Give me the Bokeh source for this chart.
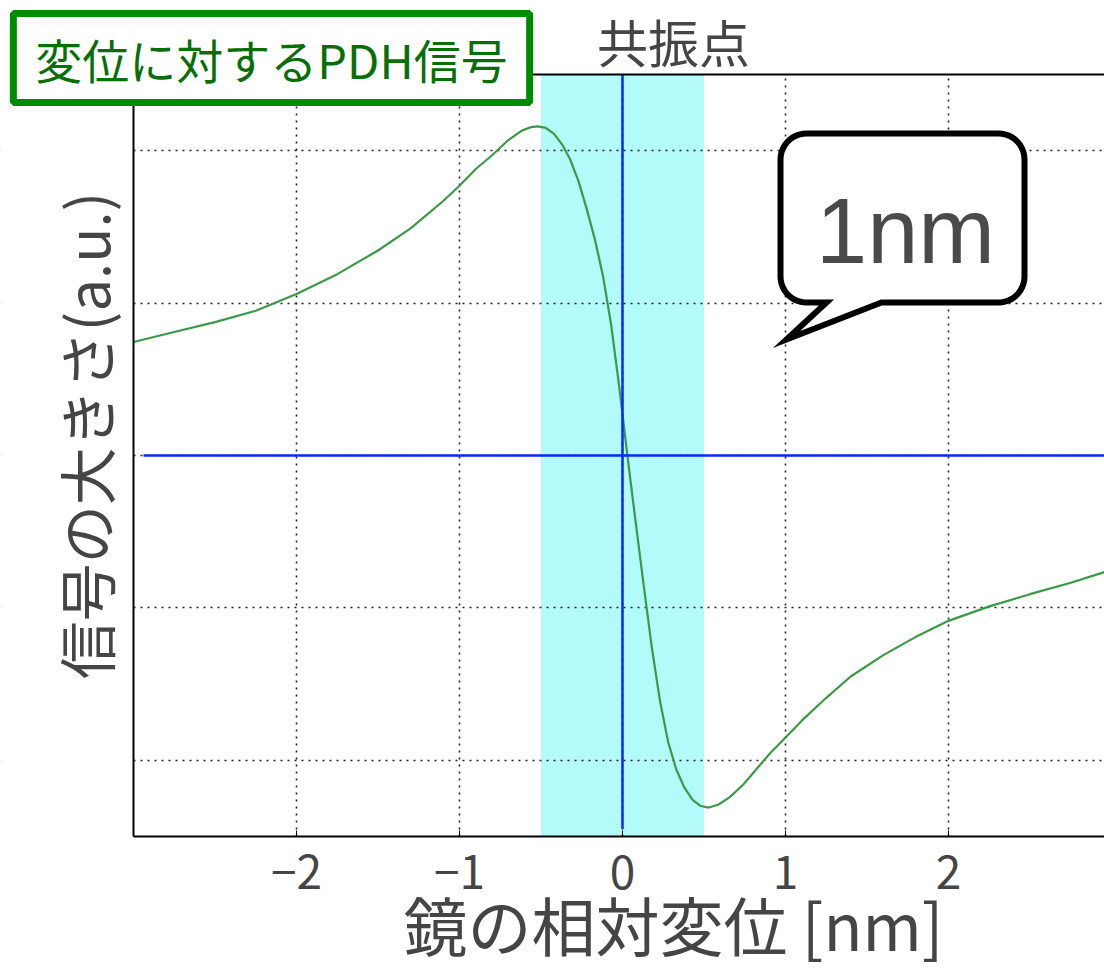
import numpy as np
from bokeh.plotting import figure
from bokeh.models import Range1d, FixedTicker, Label, BoxAnnotation, Title
from bokeh.embed import file_html
from bokeh.resources import INLINE

# ---------------- data ----------------
disp_nm = [-3.0, -2.75, -2.5, -2.25, -2.0, -1.75, -1.5, -1.3, -1.1, -1.0,
           -0.9, -0.8, -0.7, -0.62, -0.56, -0.52, -0.47, -0.42, -0.37, -0.32,
           -0.27, -0.22, -0.17, -0.12, -0.07, -0.02, 0.03, 0.08, 0.13, 0.18,
           0.23, 0.28, 0.33, 0.38, 0.43, 0.48, 0.53, 0.59, 0.66, 0.74,
           0.82, 0.90, 1.0, 1.1, 1.25, 1.4, 1.6, 1.8, 2.0, 2.25,
           2.5, 2.75, 2.957]
pdh_signal = [0.745, 0.81, 0.875, 0.95, 1.06, 1.19, 1.345, 1.49, 1.67, 1.77,
              1.88, 1.97, 2.07, 2.13, 2.155, 2.16, 2.15, 2.11, 2.04, 1.94,
              1.80, 1.62, 1.42, 1.18, 0.86, 0.45, 0.0, -0.43, -0.85, -1.26,
              -1.61, -1.88, -2.06, -2.18, -2.26, -2.30, -2.31, -2.29, -2.24, -2.16,
              -2.06, -1.96, -1.85, -1.74, -1.59, -1.45, -1.31, -1.19, -1.085, -0.99,
              -0.91, -0.835, -0.765]
x_ticks = [-2, -1, 0, 1, 2]
x_tick_labels = ["\u22122", "\u22121", "0", "1", "2"]
y_ticks = [-2, -1, 0, 1, 2]
band_left, band_right = -0.5, 0.5          # 1 nm window around resonance
resonance_x = 0.0
zero_signal = 0.0

title_text = "変位に対するPDH信号"
xlabel_text = "鏡の相対変位 [nm]"
ylabel_text = "信号の大きさ(a.u.)"
resonance_text = "共振点"
bubble_text = "1nm"

# ---------------- layout ----------------
W, H = 1104, 971
FL, FR, FT, FB = 0, 1104, 0, 836        # plotting frame (pixels)
AX_L, AX_T = 133, 74                     # drawn plot box left / top (pixels)
SX = 163.0                               # pixels per nm
X_START = -3.0
X_END = X_START + (FR - AX_L) / SX
X_FRAME_START = X_START - (AX_L - FL) / SX
Y_START, Y_TOP = -2.5, 2.5
SY = (FB - AX_T) / (Y_TOP - Y_START)
Y_END = Y_TOP + (AX_T - FT) / SY


def px2x(px):
    return X_START + (px - AX_L) / SX


def py2y(py):
    return Y_END - (py - FT) / SY


JP = "Noto Sans CJK JP"
GRAY = "#454545"

p = figure(width=W, height=H, x_range=Range1d(X_FRAME_START, X_END),
           y_range=Range1d(Y_START, Y_END), y_axis_location=None,
           output_backend="svg", toolbar_location=None,
           min_border_left=FL, min_border_right=0, min_border_top=FT, min_border_bottom=H - FB)
p.title = None
p.outline_line_color = None
p.background_fill_color = "white"
p.border_fill_color = "white"

# x axis
xa = p.xaxis[0]
xa.bounds = (X_START, X_END)
xa.ticker = FixedTicker(ticks=x_ticks)
xa.major_label_overrides = {t: l for t, l in zip(x_ticks, x_tick_labels)}
xa.major_label_text_font = JP
xa.major_label_text_font_size = "46px"
xa.major_label_text_color = GRAY
xa.major_label_standoff = 18
xa.major_tick_in = 6
xa.major_tick_out = 0
xa.minor_tick_line_color = None
xa.axis_line_width = 2
xa.axis_line_color = "black"
xa.major_tick_line_color = "black"

p.add_layout(Title(text=xlabel_text, align="left", offset=403, standoff=-30,
                   vertical_align="top",
                   text_font=JP, text_font_size="64px", text_font_style="normal",
                   text_color=GRAY), "below")

# grid
for g in (p.xgrid[0], p.ygrid[0]):
    g.grid_line_color = "#222222"
    g.grid_line_dash = "2 5"
    g.grid_line_width = 1.6
p.xgrid[0].ticker = FixedTicker(ticks=x_ticks)
p.ygrid[0].ticker = FixedTicker(ticks=y_ticks)

# cyan 1 nm band
p.add_layout(BoxAnnotation(left=band_left, right=band_right, bottom=Y_START - 1, top=Y_TOP,
                           fill_color="#b3fafa", fill_alpha=1.0, line_color=None, level="image"))
# white margins outside the plot box
p.add_layout(BoxAnnotation(left=X_FRAME_START - 1, right=X_END + 1, bottom=Y_TOP, top=Y_END + 1,
                           fill_color="white", fill_alpha=1.0, line_color=None, level="glyph"))
p.add_layout(BoxAnnotation(left=X_FRAME_START - 1, right=X_START, bottom=Y_START - 1, top=Y_END + 1,
                           fill_color="white", fill_alpha=1.0, line_color=None, level="glyph"))

# PDH curve
p.line(disp_nm, pdh_signal, line_color="#3a9a48", line_width=2.2)

# blue reference lines
p.line([resonance_x, resonance_x], [py2y(828), Y_TOP], line_color="#0a28ff", line_width=2.5)
p.line([px2x(143), X_END], [zero_signal, zero_signal], line_color="#0a28ff", line_width=2.5)

# top and left edges of plot box
p.line([X_START, X_END], [Y_TOP, Y_TOP], line_color="black", line_width=2, level="guide")
p.line([X_START, X_START], [Y_START, Y_TOP], line_color="black", line_width=2, level="guide")

# speech bubble "1nm"
L_, R_, T_, B_, r = 780, 1024, 133, 302, 26
pts = []
for cx, cy, a0, a1 in [(R_ - r, T_ + r, -90, 0), (R_ - r, B_ - r, 0, 90)]:
    for a in np.linspace(np.radians(a0), np.radians(a1), 12):
        pts.append((cx + r * np.cos(a), cy + r * np.sin(a)))
pts += [(881, B_), (786, 339), (826, B_)]
for cx, cy, a0, a1 in [(L_ + r, B_ - r, 90, 180), (L_ + r, T_ + r, 180, 270)]:
    for a in np.linspace(np.radians(a0), np.radians(a1), 12):
        pts.append((cx + r * np.cos(a), cy + r * np.sin(a)))
p.patch([px2x(a) for a, b in pts], [py2y(b) for a, b in pts],
        fill_color="white", line_color="black", line_width=6, line_join="miter")

p.add_layout(Label(x=px2x(905), y=py2y(230), text=bubble_text, text_font="Liberation Sans",
                   text_font_size="92px", text_color="#4a4a4a", text_align="center",
                   text_baseline="middle"))

# y label
p.add_layout(Label(x=px2x(84), y=py2y(435), text=ylabel_text, text_font=JP,
                   text_font_size="58px", text_color=GRAY, text_align="center",
                   text_baseline="middle", angle=np.pi / 2))

# texts above the plot box
p.add_layout(Label(x=px2x(673), y=py2y(40), text=resonance_text, text_font=JP,
                   text_font_size="51px", text_color=GRAY, text_align="center",
                   text_baseline="middle"))
p.add_layout(Label(x=px2x(271), y=py2y(57.5), text=title_text, text_font=JP,
                   text_font_size="47px", text_color="#086e08", text_align="center",
                   text_baseline="middle", background_fill_color="white",
                   border_line_color="#008c00", border_line_width=7, padding=(22, 10)))

open("out.html", "w").write(file_html(p, INLINE))
